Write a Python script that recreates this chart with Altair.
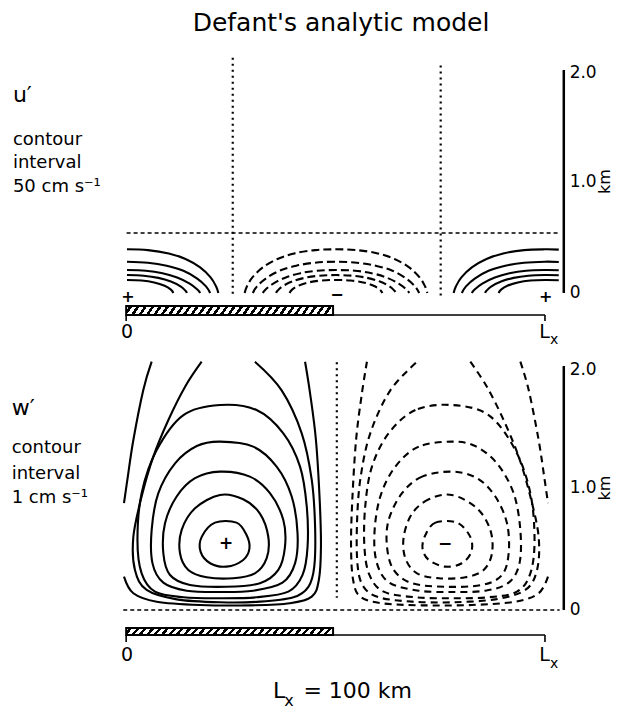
import altair as alt
import pandas as pd

# ---------------- values (x and z in km) ----------------
# u' panel, solid (+) contours near x = 0
u_pos_left = [
    [(0, 0.392), (5, 0.385), (10, 0.355), (14, 0.305), (17.5, 0.23), (20, 0.14), (21.3, 0.06), (21.85, 0.0)],
    [(0, 0.281), (5, 0.272), (9.5, 0.245), (13.5, 0.2), (16.8, 0.13), (18.9, 0.06), (19.9, 0.0)],
    [(0, 0.206), (4.5, 0.2), (8.5, 0.178), (12, 0.14), (15, 0.085), (16.9, 0.03), (17.5, 0.0)],
    [(0, 0.161), (4, 0.155), (7.5, 0.136), (10.5, 0.103), (12.8, 0.06), (14, 0.02), (14.3, 0.0)],
    [(0, 0.117), (3.5, 0.112), (6.5, 0.095), (9, 0.065), (10.5, 0.03), (11.1, 0.0)],
]
# u' panel, dashed (-) contours around x = 50
u_neg_mid = [
    [(28.15, 0), (28.7, 0.06), (30, 0.14), (32.5, 0.23), (36, 0.305), (40, 0.355), (45, 0.385), (50, 0.392),
     (55, 0.385), (60, 0.355), (64, 0.305), (67.5, 0.23), (70, 0.14), (71.3, 0.06), (71.85, 0)],
    [(30.1, 0), (31.1, 0.06), (33.2, 0.13), (36.5, 0.2), (40.5, 0.245), (45, 0.272), (50, 0.281),
     (55, 0.272), (59.5, 0.245), (63.5, 0.2), (66.8, 0.13), (68.9, 0.06), (69.9, 0)],
    [(32.5, 0), (33.1, 0.03), (35, 0.085), (38, 0.14), (41.5, 0.178), (45.5, 0.2), (50, 0.206),
     (54.5, 0.2), (58.5, 0.178), (62, 0.14), (65, 0.085), (66.9, 0.03), (67.5, 0)],
    [(35.7, 0), (36, 0.02), (37.2, 0.06), (39.5, 0.103), (42.5, 0.136), (46, 0.155), (50, 0.161),
     (54, 0.155), (57.5, 0.136), (60.5, 0.103), (62.8, 0.06), (64, 0.02), (64.3, 0)],
    [(38.9, 0), (39.5, 0.03), (41, 0.065), (43.5, 0.095), (46.5, 0.112), (50, 0.117),
     (53.5, 0.112), (56.5, 0.095), (59, 0.065), (60.5, 0.03), (61.1, 0)],
]
# u' panel, solid (+) contours near x = Lx
u_pos_right = [
    [(78.15, 0.0), (78.7, 0.06), (80, 0.14), (82.5, 0.23), (86, 0.305), (90, 0.355), (95, 0.385), (100, 0.392), (103.3, 0.389)],
    [(80.1, 0.0), (81.1, 0.06), (83.2, 0.13), (86.5, 0.2), (90.5, 0.245), (95, 0.272), (100, 0.281), (103.3, 0.278)],
    [(82.5, 0.0), (83.1, 0.03), (85, 0.085), (88, 0.14), (91.5, 0.178), (95.5, 0.2), (100, 0.206), (103.3, 0.204)],
    [(85.7, 0.0), (86, 0.02), (87.2, 0.06), (89.5, 0.103), (92.5, 0.136), (96, 0.155), (100, 0.161), (103.3, 0.159)],
    [(88.9, 0.0), (89.5, 0.03), (91, 0.065), (93.5, 0.095), (96.5, 0.112), (100, 0.117), (103.3, 0.115)],
]

# w' panel, closed solid (+) loops
w_pos_loops = [
    [(21.05, 0.716), (26.2, 0.716), (28.6, 0.615), (29.3, 0.505), (27.8, 0.41), (23.8, 0.355), (19.9, 0.383),
     (17.6, 0.478), (17.9, 0.601)],
    [(22.25, 0.943), (27.8, 0.907), (31.8, 0.79), (33.8, 0.60), (33.4, 0.423), (30.6, 0.30), (25.4, 0.26),
     (19.06, 0.268), (14.67, 0.328), (12.68, 0.465), (13.08, 0.656), (16.27, 0.833)],
    [(22.25, 1.134), (29.4, 1.093), (34.2, 0.957), (37.4, 0.738), (37.8, 0.519), (36.2, 0.328), (31.8, 0.219),
     (23.8, 0.19), (15.07, 0.205), (10.29, 0.287), (8.69, 0.465), (9.09, 0.71), (11.88, 0.93), (16.27, 1.08)],
    [(22.25, 1.38), (30.2, 1.339), (35.8, 1.175), (39.4, 0.93), (40.8, 0.63), (40.2, 0.382), (37.2, 0.224),
     (30.2, 0.158), (22.25, 0.147), (14.27, 0.158), (8.69, 0.224), (6.1, 0.382), (5.9, 0.656), (7.5, 0.957),
     (11.5, 1.202), (16.7, 1.344)],
    [(22.25, 1.68), (31.0, 1.639), (37.4, 1.448), (41.4, 1.175), (43.0, 0.85), (43.2, 0.519), (42.0, 0.287),
     (38.6, 0.15), (31.0, 0.104), (22.25, 0.096), (13.5, 0.104), (6.7, 0.15), (3.5, 0.30), (2.5, 0.574),
     (3.5, 0.957), (7.1, 1.311), (13.5, 1.598)],
]
# w' panel, open solid (+) contours
w_pos_open = [
    [(17.86, 2.035), (13.9, 1.83), (9.9, 1.557), (6.3, 1.257), (3.5, 0.93), (1.52, 0.60), (1.9, 0.328),
     (4.7, 0.164), (11.9, 0.087), (22.25, 0.063), (31.8, 0.068), (39.8, 0.104), (43.4, 0.19), (44.8, 0.355),
     (45.0, 0.683), (44.2, 1.066), (41.8, 1.448), (37.0, 1.80), (30.6, 2.035)],
    [(5.9, 2.035), (3.9, 1.803), (1.52, 1.393), (0.08, 1.066), (-0.72, 0.875)],
    [(-0.72, 0.273), (1.52, 0.137), (7.1, 0.068), (17.46, 0.041), (29.4, 0.038), (39.0, 0.055), (44.2, 0.109),
     (45.9, 0.246), (46.4, 0.519), (46.1, 0.90), (45.2, 1.393), (43.8, 1.776), (42.6, 2.035)],
]
# w' panel, closed dashed (-) loops
w_neg_loops = [
    [(78.95, 0.716), (73.8, 0.716), (71.4, 0.615), (70.7, 0.505), (72.2, 0.41), (76.2, 0.355), (80.1, 0.383),
     (82.4, 0.478), (82.1, 0.601)],
    [(77.75, 0.943), (72.2, 0.907), (68.2, 0.79), (66.2, 0.60), (66.6, 0.423), (69.4, 0.30), (74.6, 0.26),
     (80.94, 0.268), (85.33, 0.328), (87.32, 0.465), (86.92, 0.656), (83.73, 0.833)],
    [(77.75, 1.134), (70.6, 1.093), (65.8, 0.957), (62.6, 0.738), (62.2, 0.519), (63.8, 0.328), (68.2, 0.219),
     (76.2, 0.19), (84.93, 0.205), (89.71, 0.287), (91.31, 0.465), (90.91, 0.71), (88.12, 0.93), (83.73, 1.08)],
    [(77.75, 1.38), (69.8, 1.339), (64.2, 1.175), (60.6, 0.93), (59.2, 0.63), (59.8, 0.382), (62.8, 0.224),
     (69.8, 0.158), (77.75, 0.147), (85.73, 0.158), (91.31, 0.224), (93.9, 0.382), (94.1, 0.656), (92.5, 0.957),
     (88.5, 1.202), (83.3, 1.344)],
    [(77.75, 1.68), (69.0, 1.639), (62.6, 1.448), (58.6, 1.175), (57.0, 0.85), (56.8, 0.519), (58.0, 0.287),
     (61.4, 0.15), (69.0, 0.104), (77.75, 0.096), (86.5, 0.104), (93.3, 0.15), (96.5, 0.30), (97.5, 0.574),
     (96.5, 0.957), (92.9, 1.311), (86.5, 1.598)],
]
# w' panel, open dashed (-) contours
w_neg_open = [
    [(82.14, 2.035), (86.1, 1.83), (90.1, 1.557), (93.7, 1.257), (96.5, 0.93), (98.48, 0.60), (98.1, 0.328),
     (95.3, 0.164), (88.1, 0.087), (77.75, 0.063), (68.2, 0.068), (60.2, 0.104), (56.6, 0.19), (55.2, 0.355),
     (55.0, 0.683), (55.8, 1.066), (58.2, 1.448), (63.0, 1.80), (69.4, 2.035)],
    [(94.1, 2.035), (96.1, 1.803), (98.48, 1.393), (99.92, 1.066), (100.72, 0.875)],
    [(100.72, 0.273), (98.48, 0.137), (92.9, 0.068), (82.54, 0.041), (70.6, 0.038), (61.0, 0.055), (55.8, 0.109),
     (54.1, 0.246), (53.6, 0.519), (53.9, 0.90), (54.8, 1.393), (56.2, 1.776), (57.4, 2.035)],
]

# zero lines, land strip, axes
u_zero_z = 0.538                      # dashed u'=0 height
u_zero_x = [25.3, 75.05]              # dotted u'=0 positions
u_zero_top = [2.11, 2.04]
w_zero_x = 50.2                       # dotted w'=0 position
land_x = [-0.2, 49.3]
Lx = 100
axis_x = 104.5
tick_vals = [0, 1, 2]
tick_text = ["0", "1.0", "2.0"]
title_text = "Defant's analytic model"
u_labels = ["u\u2032", "contour", "interval", "50 cm s\u207b\u00b9"]
w_labels = ["w\u2032", "contour", "interval", "1 cm s\u207b\u00b9"]

# ---------------- chart helpers ----------------
FONT = "DejaVu Sans"
XS = alt.Scale(domain=[-28.47, 116.99], nice=False, zero=False)
YS_U = alt.Scale(domain=[-0.511, 2.556], nice=False, zero=False)
YS_W = alt.Scale(domain=[-0.82, 2.131], nice=False, zero=False)


def contour_df(groups, name):
    rows = []
    for gi, pts in enumerate(groups):
        for pi, (x, z) in enumerate(pts):
            rows.append({"x": x, "z": z, "cid": f"{name}{gi}", "o": pi})
    return pd.DataFrame(rows)


def enc_xy(ys):
    return dict(x=alt.X("x:Q", scale=XS, axis=None), y=alt.Y("z:Q", scale=ys, axis=None))


def lines(groups, name, ys, dash=None, closed=False, width=2.1):
    kw = dict(interpolate="cardinal-closed" if closed else "cardinal", color="black",
              strokeWidth=width, strokeCap="butt")
    if dash:
        kw["strokeDash"] = dash
    return alt.Chart(contour_df(groups, name)).mark_line(**kw).encode(
        detail="cid:N", order="o:Q", **enc_xy(ys))


def texts(rows, ys, size, align="left", baseline="alphabetic", weight="normal", angle=0):
    df = pd.DataFrame(rows, columns=["x", "z", "t"])
    return alt.Chart(df).mark_text(font=FONT, fontSize=size, align=align, baseline=baseline,
                                   fontWeight=weight, angle=angle, color="black").encode(
        text="t:N", **enc_xy(ys))


def hrules(rows, ys, **kw):
    df = pd.DataFrame(rows, columns=["x", "x2", "z"])
    return alt.Chart(df).mark_rule(color="black", **kw).encode(
        x2=alt.X2("x2:Q"), **enc_xy(ys))


def vrules(rows, ys, **kw):
    df = pd.DataFrame(rows, columns=["x", "z", "z2"])
    return alt.Chart(df).mark_rule(color="black", **kw).encode(
        y2=alt.Y2("z2:Q"), **enc_xy(ys))


def hatch_fill(n=28):
    stops = [alt.GradientStop(offset=0, color="white")]
    for i in range(n):
        a = i / n
        b, c = a + 0.45 / n, a + 0.88 / n
        stops += [alt.GradientStop(offset=b, color="white"), alt.GradientStop(offset=b, color="black"),
                  alt.GradientStop(offset=c, color="black"), alt.GradientStop(offset=c, color="white")]
    stops.append(alt.GradientStop(offset=1, color="white"))
    return alt.LinearGradient(gradient="linear", stops=stops, x1=0, y1=0, x2=1, y2=0.03)


def land(ys, z_top, z_bot):
    df = pd.DataFrame([{"x": land_x[0], "x2": land_x[1], "z": z_top, "z2": z_bot}])
    return alt.Chart(df).mark_rect(fill=hatch_fill(), stroke="black", strokeWidth=2).encode(
        x2=alt.X2("x2:Q"), y2=alt.Y2("z2:Q"), **enc_xy(ys))


def axis_layers(ys):
    return [
        vrules([(axis_x, 0, 2)], ys, strokeWidth=2.5),
        texts([(axis_x + 1.4, v + (-0.03 if v == 2 else 0), s) for v, s in zip(tick_vals, tick_text)],
              ys, 17, baseline="middle"),
        texts([(114.35, 1.0, "km")], ys, 16, align="center", baseline="middle", angle=270),
    ]


# ---------------- u' panel ----------------
top_layers = [
    texts([(51.2, 2.35, title_text)], YS_U, 25, align="center"),
    texts([(-27.3, 1.713, u_labels[0])], YS_U, 22),
    texts([(-27.3, 1.327, u_labels[1]), (-27.3, 1.121, u_labels[2]), (-27.3, 0.906, u_labels[3])], YS_U, 18),
    lines(u_pos_left, "pl", YS_U),
    lines(u_pos_right, "pr", YS_U),
    lines(u_neg_mid, "nm", YS_U, dash=[8, 4]),
    hrules([(-0.1, 103.5, u_zero_z)], YS_U, strokeWidth=1.6, strokeDash=[4, 3]),
    vrules([(u_zero_x[0], u_zero_top[0], -0.03), (u_zero_x[1], u_zero_top[1], -0.03)], YS_U,
           strokeWidth=2.2, strokeDash=[2, 4]),
    land(YS_U, -0.117, -0.197),
    hrules([(land_x[0], Lx, -0.197)], YS_U, strokeWidth=1.6),
    vrules([(land_x[0], -0.197, -0.25), (Lx, -0.197, -0.25)], YS_U, strokeWidth=1.6),
    texts([(0, -0.35, "0")], YS_U, 19, align="center", baseline="middle"),
    texts([(98.6, -0.40, "L")], YS_U, 19),
    texts([(101.2, -0.46, "x")], YS_U, 14),
    texts([(0.2, -0.036, "+"), (100.2, -0.036, "+")], YS_U, 16, align="center", baseline="middle", weight="bold"),
    texts([(50.2, -0.018, "\u2212")], YS_U, 16, align="center", baseline="middle", weight="bold"),
] + axis_layers(YS_U)

top = alt.layer(*top_layers).properties(width=608, height=342)

# ---------------- w' panel ----------------
bot_layers = [
    texts([(-27.6, 1.598, w_labels[0])], YS_W, 22),
    texts([(-27.6, 1.287, w_labels[1]), (-27.6, 1.074, w_labels[2]), (-27.6, 0.877, w_labels[3])], YS_W, 18),
    lines(w_pos_loops, "pl", YS_W, closed=True),
    lines(w_pos_open, "po", YS_W),
    lines(w_neg_loops, "nl", YS_W, dash=[7, 5], closed=True),
    lines(w_neg_open, "no", YS_W, dash=[7, 5]),
    hrules([(-0.9, 103.5, 0.0)], YS_W, strokeWidth=1.6, strokeDash=[4, 3]),
    vrules([(w_zero_x, 2.03, 0.10)], YS_W, strokeWidth=2.2, strokeDash=[2, 4]),
    land(YS_W, -0.148, -0.205),
    hrules([(land_x[0], Lx, -0.205)], YS_W, strokeWidth=1.6),
    vrules([(land_x[0], -0.205, -0.262), (Lx, -0.205, -0.262)], YS_W, strokeWidth=1.6),
    texts([(0, -0.369, "0")], YS_W, 19, align="center", baseline="middle"),
    texts([(98.6, -0.42, "L")], YS_W, 19),
    texts([(101.2, -0.475, "x")], YS_W, 14),
    texts([(23.7, 0.541, "+")], YS_W, 17, align="center", baseline="middle", weight="bold"),
    texts([(76.1, 0.541, "\u2212")], YS_W, 17, align="center", baseline="middle", weight="bold"),
    texts([(34.9, -0.721, "L")], YS_W, 22),
    texts([(37.6, -0.79, "x")], YS_W, 16),
    texts([(42.2, -0.721, "= 100 km")], YS_W, 22),
] + axis_layers(YS_W)

bottom = alt.layer(*bot_layers).properties(width=608, height=360)

chart = alt.vconcat(top, bottom, spacing=0, bounds="flush").properties(padding=0).configure_view(strokeOpacity=0)

chart.save("out.html", embed_options={"renderer": "svg", "actions": False})
